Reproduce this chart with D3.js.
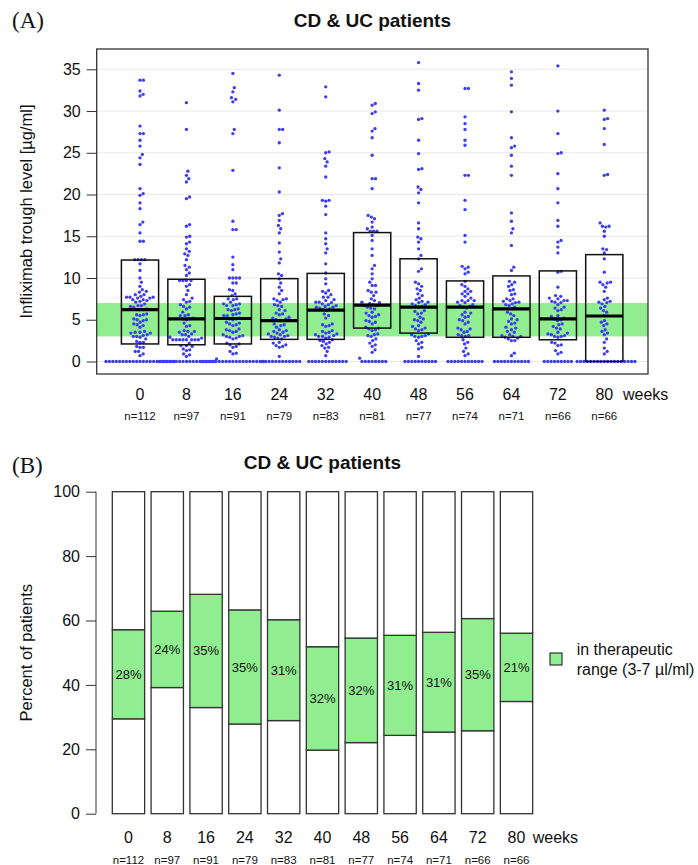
<!DOCTYPE html>
<html><head><meta charset="utf-8">
<script src="https://cdn.jsdelivr.net/npm/d3@7"></script>
<style>body{margin:0;background:#fff} svg text{font-family:"Liberation Sans",Arial,Helvetica,sans-serif;fill:#111}</style>
</head><body><svg id="chart" width="698" height="865"></svg>
<script>
// ---------- data ----------
const weeks = [0, 8, 16, 24, 32, 40, 48, 56, 64, 72, 80];
const nPatients = [112, 97, 91, 79, 83, 81, 77, 74, 71, 66, 66];
const nBelowRange = [33, 38, 30, 22, 24, 16, 17, 18, 18, 17, 23];
const nInRange = [31, 23, 32, 28, 26, 26, 25, 23, 22, 23, 14];
const boxQ1 = [2.1, 2.0, 2.1, 2.65, 2.65, 4.0, 3.4, 2.9, 2.9, 2.6, 0];
const boxMedian = [6.2, 5.1, 5.15, 4.9, 6.15, 6.75, 6.5, 6.5, 6.3, 5.1, 5.45];
const boxQ3 = [12.15, 9.85, 7.8, 9.92, 10.55, 15.44, 12.3, 9.65, 10.25, 10.85, 12.8];
const therapeuticRange = [3, 7];
const levelTicks = [0, 5, 10, 15, 20, 25, 30, 35];
const percentTicks = [0, 20, 40, 60, 80, 100];

const levelsW0 = [33.7, 33.7, 32.4, 32.0, 31.8, 28.2, 27.3, 27.3, 26.5, 25.8, 24.8, 24.4, 23.6,
  20.7, 20.1, 19.9, 19.0, 18.3, 16.7, 16.4, 15.4, 14.4, 14.4,
  12.2, 12.2, 12.2, 12.2, 11.7, 10.9, 10.0, 9.5, 9.0, 8.6,
  8.4, 8.3, 8.0, 8.0, 7.8, 7.7, 7.7, 7.7, 7.6, 7.6, 7.4, 7.4, 7.3, 7.2, 7.1,
  6.9, 6.7, 6.7, 6.6, 6.5, 6.3, 6.2, 6.2, 6.2, 5.7, 5.6, 5.6, 5.5, 5.1, 5.0, 5.0, 4.9, 4.7,
  4.5, 4.4, 4.3, 4.1, 3.6, 3.5, 3.5, 3.4, 3.4, 3.2, 3.1, 3.0, 3.0,
  2.9, 2.7, 2.4, 2.3, 2.3, 1.8, 1.7, 1.7, 1.2, 1.2, 0.9, 0.7,
  0, 0, 0, 0, 0, 0, 0, 0, 0, 0, 0, 0, 0, 0, 0, 0, 0, 0, 0, 0, 0];
const levelsW8 = [31.0, 27.8, 22.8, 22.3, 21.9, 21.5, 19.7, 19.5, 16.4, 16.2, 15.0, 14.9, 14.3, 14.1,
  13.5, 13.2, 12.9, 12.7, 12.2, 11.5, 11.3, 11.0, 10.6, 10.3, 9.7, 9.7, 9.7, 9.7, 9.2, 9.0, 8.5, 8.0,
  7.6, 7.4, 7.2, 7.1,
  6.8, 6.6, 6.5, 6.3, 5.9, 5.6, 5.5, 5.5, 5.2, 5.1, 5.1, 5.0, 4.6, 4.3, 4.2, 3.7, 3.6, 3.6, 3.5, 3.3,
  3.2, 3.2, 3.0,
  2.9, 2.8, 2.6, 2.6, 2.6, 2.6, 2.6, 2.6, 2.6, 2.6, 2.2, 1.9, 1.9, 1.8, 1.5, 1.4, 1.3, 0.9, 0.8, 0.6, 0.3,
  0, 0, 0, 0, 0, 0, 0, 0, 0, 0, 0, 0, 0, 0, 0, 0, 0];
const levelsW16 = [34.5, 32.8, 32.3, 31.6, 31.4, 31.1, 27.8, 27.3, 22.9, 16.8, 15.8, 15.8, 12.5, 11.6, 11.0,
  10.0, 10.0, 10.0, 10.0, 9.4, 9.4, 8.6, 8.5, 8.1, 7.9, 7.5, 7.5, 7.4, 7.1,
  6.9, 6.9, 6.8, 6.7, 6.7, 6.3, 6.2, 6.2, 6.1, 5.8, 5.7, 5.6, 5.5, 5.5, 5.2, 5.1, 5.1, 5.0,
  4.7, 4.6, 4.5, 4.4, 4.3, 3.9, 3.8, 3.7, 3.6, 3.5, 3.2, 3.1, 3.0, 3.0,
  2.9, 2.8, 2.7, 2.2, 2.1, 2.0, 1.8, 1.7, 1.2, 1.0, 0.9,
  0, 0, 0, 0, 0, 0, 0, 0, 0, 0, 0, 0, 0, 0, 0, 0, 0, 0, 0];
const levelsW24 = [34.3, 30.1, 27.8, 27.8, 26.2, 23.2, 20.3, 17.7, 17.5, 16.9, 16.3, 15.9, 15.4, 14.2, 13.1,
  12.3, 11.8, 10.5, 10.3, 9.9, 9.4, 8.9, 8.5, 8.1, 7.5, 7.5, 7.4, 7.3, 7.1,
  6.8, 6.7, 6.6, 6.2, 6.1, 5.8, 5.7, 5.6, 5.3, 5.2, 5.1, 5.0, 4.9, 4.9, 4.5, 4.4, 4.3, 4.1,
  3.8, 3.7, 3.6, 3.5, 3.4, 3.3, 3.2, 3.1, 3.0, 3.0,
  2.9, 2.8, 2.7, 2.3, 2.2, 2.0, 1.9, 1.8, 1.7, 0.6,
  0, 0, 0, 0, 0, 0, 0, 0, 0, 0, 0, 0];
const levelsW32 = [32.9, 31.7, 25.1, 25.0, 24.3, 23.9, 23.4, 22.1, 19.3, 19.3, 19.2, 18.6, 17.6, 15.4, 14.7,
  14.1, 13.5, 13.0, 11.7, 10.6, 9.9, 9.3, 8.5, 8.4, 8.2, 8.0, 7.7, 7.7, 7.4, 7.3, 7.1, 7.1, 7.05,
  6.9, 6.8, 6.7, 6.6, 6.5, 6.5, 6.4, 6.3, 6.2, 6.1, 5.7, 5.5, 5.2, 4.5, 4.4, 4.3, 4.2,
  3.7, 3.6, 3.5, 3.4, 3.3, 3.2, 3.1, 3.0, 3.0,
  2.9, 2.8, 2.6, 2.5, 2.4, 2.3, 2.1, 1.9, 1.7, 1.6, 1.2, 0.7,
  0, 0, 0, 0, 0, 0, 0, 0, 0, 0, 0, 0];
const levelsW40 = [30.9, 30.7, 29.9, 29.7, 27.9, 27.6, 26.8, 24.7, 21.9, 21.9, 20.7, 17.5, 17.3, 17.1, 16.7,
  16.1, 15.9, 15.6, 15.6, 15.6, 15.1, 14.5, 13.5, 12.7, 11.5, 11.1, 10.5, 9.9, 9.5, 9.1, 9.1, 8.5,
  8.3, 8.3, 7.9, 7.5, 7.3, 7.1, 7.05,
  6.95, 6.8, 6.7, 6.7, 6.5, 6.4, 6.3, 5.9, 5.8, 5.6, 5.5, 5.4, 5.3, 4.9, 4.8, 4.7, 4.5,
  4.1, 4.0, 3.9, 3.8, 3.7, 3.3, 3.2, 3.1, 3.0,
  2.7, 2.5, 2.2, 2.0, 1.8, 1.4, 1.1, 0.4,
  0, 0, 0, 0, 0, 0, 0, 0];
const levelsW48 = [35.8, 33.3, 32.5, 29.1, 29.0, 26.5, 24.9, 23.1, 23.0, 20.9, 20.6, 20.2, 19.0, 16.6, 15.9,
  14.9, 14.7, 14.3, 13.5, 12.7, 12.3, 11.1, 10.8, 9.5, 9.3, 9.0, 8.7, 8.5, 8.1, 7.9, 7.6, 7.4, 7.2, 7.1, 7.05,
  6.9, 6.8, 6.7, 6.6, 6.5, 6.1, 6.0, 5.8, 5.7, 5.3, 5.1, 5.0, 4.9, 4.7, 4.3, 4.2, 4.0, 3.9, 3.8, 3.7,
  3.3, 3.2, 3.1, 3.0, 3.0,
  2.9, 2.5, 2.3, 2.1, 1.7, 1.5, 0.6,
  0, 0, 0, 0, 0, 0, 0, 0, 0, 0];
const levelsW56 = [32.7, 32.7, 29.3, 28.5, 27.8, 26.5, 25.9, 22.3, 22.3, 19.3, 18.2, 15.1, 14.3, 11.4, 11.3,
  11.1, 10.7, 10.5, 9.6, 9.2, 9.0, 8.7, 8.4, 8.4, 8.1, 8.1, 7.8, 7.6, 7.3, 7.3, 7.3, 7.1, 7.05,
  6.8, 6.7, 6.6, 6.5, 6.4, 5.9, 5.8, 5.6, 5.4, 5.3, 5.0, 4.9, 4.7, 4.5, 4.0, 3.9, 3.8, 3.6, 3.5,
  3.2, 3.1, 3.1, 3.0,
  2.6, 2.3, 2.1, 1.6, 1.2, 0.9, 0.7,
  0, 0, 0, 0, 0, 0, 0, 0, 0, 0, 0];
const levelsW64 = [34.7, 33.9, 33.1, 29.9, 26.8, 25.8, 25.6, 24.7, 23.4, 22.3, 17.8, 16.8, 15.9, 15.4, 13.9,
  11.3, 10.9, 9.6, 9.5, 9.2, 9.0, 8.6, 8.5, 8.1, 8.0, 7.5, 7.5, 7.3, 7.2, 7.1, 7.05,
  6.9, 6.8, 6.7, 6.5, 6.3, 5.9, 5.7, 5.5, 5.1, 5.0, 4.8, 4.6, 4.5, 4.1, 4.0, 3.8, 3.6, 3.5,
  3.2, 3.1, 3.0, 3.0,
  2.9, 2.8, 2.7, 2.5, 2.5, 1.0, 0.7,
  0, 0, 0, 0, 0, 0, 0, 0, 0, 0, 0];
const levelsW72 = [35.4, 30.0, 27.3, 25.0, 24.9, 22.5, 20.7, 19.0, 16.9, 16.2, 14.5, 14.3, 13.7, 13.0, 10.8,
  10.7, 8.9, 7.9, 7.8, 7.6, 7.5, 7.3, 7.3, 7.2, 7.1, 7.05,
  6.8, 6.5, 6.4, 6.2, 6.1, 5.5, 5.4, 5.2, 5.1, 5.0, 4.9, 4.5, 4.4, 4.2, 4.0, 3.9,
  3.5, 3.4, 3.3, 3.2, 3.1, 3.0, 3.0,
  2.9, 2.3, 2.2, 2.0, 1.9, 1.3, 1.1, 0.9,
  0, 0, 0, 0, 0, 0, 0, 0, 0];
const levelsW80 = [30.1, 29.1, 29.0, 27.9, 26.0, 22.4, 22.3, 16.6, 16.2, 16.2, 16.1, 15.6, 15.0, 13.5, 13.4,
  13.0, 12.3, 10.7, 9.5, 9.5, 9.4, 9.2, 8.9, 8.4, 7.6, 7.4, 7.2, 7.1, 7.05,
  6.9, 6.6, 6.4, 6.1, 5.9, 5.5, 4.9, 4.7, 4.5, 4.3, 3.8, 3.6, 3.4, 3.2,
  2.7, 2.3, 1.6, 1.2, 0.9,
  0, 0, 0, 0, 0, 0, 0, 0, 0, 0, 0, 0, 0, 0, 0, 0, 0, 0];
const levelsByWeek = [levelsW0, levelsW8, levelsW16, levelsW24, levelsW32, levelsW40,
  levelsW48, levelsW56, levelsW64, levelsW72, levelsW80];

// ---------- drawing ----------
const svg = d3.select("#chart");
const GREEN = "#90ee90", DOT = "#3c3cf2";

// ===== Panel A =====
const A = {left: 96.7, right: 648, top: 49, bottom: 374};
const yA = d3.scaleLinear().domain([-1.5, 37.43]).range([A.bottom, A.top]);
const xA = d3.scalePoint().domain(weeks).range([140, 604.3]);
const gA = svg.append("g");

gA.append("text").attr("x", 12).attr("y", 28)
  .style("font-family", "'Liberation Serif','Times New Roman',serif").style("font-size", "23px").text("(A)");
gA.append("text").attr("x", (A.left + A.right) / 2).attr("y", 27).attr("text-anchor", "middle")
  .style("font-size", "19px").style("font-weight", "bold").text("CD & UC patients");

// grid
gA.append("g").selectAll("line").data(levelTicks).join("line")
  .attr("x1", A.left).attr("x2", A.right).attr("y1", d => yA(d)).attr("y2", d => yA(d))
  .attr("stroke", "#e8e8e8").attr("stroke-width", 1);
// therapeutic band
gA.append("rect").attr("x", A.left).attr("width", A.right - A.left)
  .attr("y", yA(therapeuticRange[1])).attr("height", yA(therapeuticRange[0]) - yA(therapeuticRange[1]))
  .attr("fill", GREEN);

// beeswarm (swarm placement, ascending priority; elliptical footprint)
const dotDX = 3.4, dotDY = 4.6, dotR = 1.65;
function swarm(pys) {
  const order = d3.range(pys.length).sort((a, b) => pys[b] - pys[a]);
  const placed = [], xs = new Array(pys.length);
  const hit = (dx, dy) => (dx / dotDX) ** 2 + (dy / dotDY) ** 2 < 1 - 1e-6;
  for (const i of order) {
    const y = pys[i];
    const cands = [0];
    for (const p of placed) {
      const dy = Math.abs(p.y - y);
      if (dy < dotDY) { const dx = dotDX * Math.sqrt(1 - (dy / dotDY) ** 2); cands.push(p.x + dx, p.x - dx); }
    }
    cands.sort((a, b) => Math.abs(a) - Math.abs(b) || b - a);
    let chosen = 0;
    for (const c of cands) {
      if (placed.every(p => !hit(p.x - c, p.y - y))) { chosen = c; break; }
    }
    placed.push({x: chosen, y});
    xs[i] = chosen;
  }
  return xs;
}
const dots = [];
levelsByWeek.forEach((vals, gi) => {
  const pys = vals.map(v => yA(v));
  const offs = swarm(pys);
  vals.forEach((v, j) => dots.push({x: xA(weeks[gi]) + offs[j], y: pys[j]}));
});
gA.append("g").selectAll("circle").data(dots).join("circle")
  .attr("cx", d => d.x).attr("cy", d => d.y).attr("r", dotR).attr("fill", DOT);

// boxes
const boxW = 37.2;
const boxes = weeks.map((w, i) => ({w, q1: boxQ1[i], med: boxMedian[i], q3: boxQ3[i]}));
gA.append("g").selectAll("rect").data(boxes).join("rect")
  .attr("x", d => xA(d.w) - boxW / 2).attr("width", boxW)
  .attr("y", d => yA(d.q3)).attr("height", d => yA(d.q1) - yA(d.q3))
  .attr("fill", "none").attr("stroke", "#111").attr("stroke-width", 1.5);
gA.append("g").selectAll("line").data(boxes).join("line")
  .attr("x1", d => xA(d.w) - boxW / 2).attr("x2", d => xA(d.w) + boxW / 2)
  .attr("y1", d => yA(d.med)).attr("y2", d => yA(d.med))
  .attr("stroke", "#000").attr("stroke-width", 3.2);

// frame
gA.append("rect").attr("x", A.left).attr("y", A.top).attr("width", A.right - A.left)
  .attr("height", A.bottom - A.top).attr("fill", "none").attr("stroke", "#333").attr("stroke-width", 1.3);

// y axis
const axA = gA.append("g").attr("transform", `translate(${A.left},0)`)
  .call(d3.axisLeft(yA).tickValues(levelTicks).tickSize(10).tickPadding(6));
axA.select(".domain").remove();
axA.selectAll(".tick line").attr("stroke", "#333");
axA.selectAll(".tick text").style("font-size", "16px").style("font-family", null).attr("fill", "#111");
gA.append("text").attr("transform", `translate(26,${(A.top + A.bottom) / 2}) rotate(-90)`)
  .attr("text-anchor", "middle").attr("dy", "0.35em").style("font-size", "16.5px")
  .text("Infliximab trough level [µg/ml]");

// x labels
gA.append("g").selectAll("text").data(weeks).join("text")
  .attr("x", d => xA(d)).attr("y", 400).attr("text-anchor", "middle").style("font-size", "16px").text(d => d);
gA.append("g").selectAll("text").data(nPatients).join("text")
  .attr("x", (d, i) => xA(weeks[i])).attr("y", 419.5).attr("text-anchor", "middle")
  .style("font-size", "11.5px").text(d => "n=" + d);
gA.append("text").attr("x", 623).attr("y", 400).style("font-size", "16px").text("weeks");

// ===== Panel B =====
const B = {top: 491.7, bottom: 813.7, axisX: 96};
const yB = d3.scaleLinear().domain([0, 100]).range([B.bottom, B.top]);
const xB = d3.scaleBand().domain(weeks).range([109.07, 535.9]).paddingInner(1 / 6).paddingOuter(1 / 12);
const gB = svg.append("g");

gB.append("text").attr("x", 12).attr("y", 473)
  .style("font-family", "'Liberation Serif','Times New Roman',serif").style("font-size", "23px").text("(B)");
gB.append("text").attr("x", (xB.range()[0] + xB.range()[1]) / 2).attr("y", 469).attr("text-anchor", "middle")
  .style("font-size", "19px").style("font-weight", "bold").text("CD & UC patients");

const segs = [];
weeks.forEach((w, i) => {
  const below = nBelowRange[i] / nPatients[i] * 100;
  const inR = nInRange[i] / nPatients[i] * 100;
  segs.push({w, y0: 0, y1: below, fill: "#fff"});
  segs.push({w, y0: below, y1: below + inR, fill: GREEN, label: Math.round(inR) + "%"});
  segs.push({w, y0: below + inR, y1: 100, fill: "#fff"});
});
gB.append("g").selectAll("rect").data(segs).join("rect")
  .attr("x", d => xB(d.w)).attr("width", xB.bandwidth())
  .attr("y", d => yB(d.y1)).attr("height", d => yB(d.y0) - yB(d.y1))
  .attr("fill", d => d.fill).attr("stroke", "#333").attr("stroke-width", 1.3);
gB.append("g").selectAll("text").data(segs.filter(d => d.label)).join("text")
  .attr("x", d => xB(d.w) + xB.bandwidth() / 2).attr("y", d => yB((d.y0 + d.y1) / 2))
  .attr("dy", "0.35em").attr("text-anchor", "middle").style("font-size", "13px").text(d => d.label);

const axB = gB.append("g").attr("transform", `translate(${B.axisX},0)`)
  .call(d3.axisLeft(yB).tickValues(percentTicks).tickSize(10).tickPadding(6));
axB.select(".domain").attr("stroke", "#333").attr("d", `M0,${yB(0)}V${yB(100)}`);
axB.selectAll(".tick line").attr("stroke", "#333");
axB.selectAll(".tick text").style("font-size", "16px").style("font-family", null).attr("fill", "#111");
gB.append("text").attr("transform", `translate(26,${(B.top + B.bottom) / 2}) rotate(-90)`)
  .attr("text-anchor", "middle").attr("dy", "0.35em").style("font-size", "16.5px").text("Percent of patients");

gB.append("g").selectAll("text").data(weeks).join("text")
  .attr("x", d => xB(d) + xB.bandwidth() / 2).attr("y", 843).attr("text-anchor", "middle")
  .style("font-size", "16px").text(d => d);
gB.append("g").selectAll("text").data(nPatients).join("text")
  .attr("x", (d, i) => xB(weeks[i]) + xB.bandwidth() / 2).attr("y", 863.5).attr("text-anchor", "middle")
  .style("font-size", "11.5px").text(d => "n=" + d);
gB.append("text").attr("x", 532.7).attr("y", 843).style("font-size", "16px").text("weeks");

// legend
gB.append("rect").attr("x", 550).attr("y", 653).attr("width", 12).attr("height", 12)
  .attr("fill", GREEN).attr("stroke", "#333").attr("stroke-width", 1.2);
gB.append("text").attr("x", 576.7).attr("y", 655).style("font-size", "16px").text("in therapeutic");
gB.append("text").attr("x", 576.7).attr("y", 675).style("font-size", "16px").text("range (3-7 µl/ml)");
</script>
</body></html>
